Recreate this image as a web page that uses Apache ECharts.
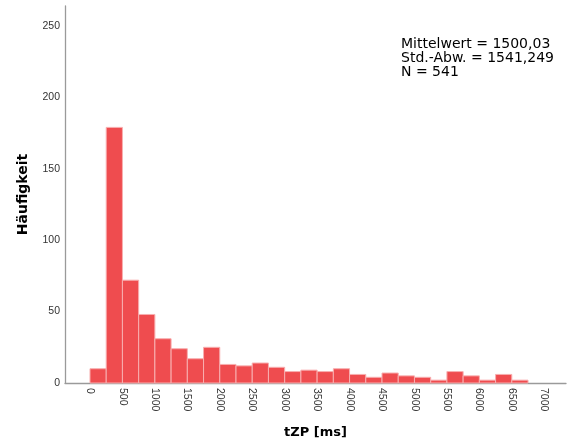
<!DOCTYPE html>
<html><head><meta charset="utf-8">
<script src="https://cdn.jsdelivr.net/npm/echarts@6/dist/echarts.min.js"></script>
<style>html,body{margin:0;padding:0;background:#fff}#c{width:567px;height:441px}</style>
</head><body><div id="c"></div>
<script>
// Histogram bins (ms) and frequencies
const binStarts = [0,250,500,750,1000,1250,1500,1750,2000,2250,2500,2750,3000,3250,3500,3750,4000,4250,4500,4750,5000,5250,5500,5750,6000,6250,6500];
const counts = [10,179,72,48,31,24,17,25,13,12,14,11,8,9,8,10,6,4,7,5,4,2,8,5,2,6,2];
const binWidth = 250;
const xTickValues = [0,500,1000,1500,2000,2500,3000,3500,4000,4500,5000,5500,6000,6500,7000];
const yTickValues = [0,50,100,150,200,250];
const statsLines = ['Mittelwert = 1500,03', 'Std.-Abw. = 1541,249', 'N = 541'];
const xTitle = 'tZP [ms]';
const yTitle = 'Häufigkeit';

const data = binStarts.map((s, i) => [s, s + binWidth, counts[i]]);
const chart = echarts.init(document.getElementById('c'), null, {renderer: 'canvas'});
const labelFont = {fontFamily: 'Liberation Sans', fontSize: 10.5, color: '#333'};
chart.setOption({
  animation: false,
  grid: {left: 65, right: 1, top: 6, bottom: 58, containLabel: false, outerBoundsMode: 'none'},
  xAxis: {
    type: 'value', min: -385, max: 7335,
    name: xTitle, nameLocation: 'middle', nameGap: 43,
    nameTextStyle: {fontFamily: 'DejaVu Sans', fontWeight: 'bold', fontSize: 13, color: '#000'},
    axisLine: {show: true, lineStyle: {color: '#9a9a9a', width: 1.3}},
    axisTick: {show: false},
    splitLine: {show: false},
    axisLabel: Object.assign({rotate: -90, margin: 5, customValues: xTickValues, formatter: v => String(v)}, labelFont)
  },
  yAxis: {
    type: 'value', min: 0, max: 264,
    name: yTitle, nameLocation: 'middle', nameGap: 35,
    nameTextStyle: {fontFamily: 'DejaVu Sans', fontWeight: 'bold', fontSize: 14, color: '#000'},
    axisLine: {show: true, onZero: false, lineStyle: {color: '#9a9a9a', width: 1.3}},
    axisTick: {show: false},
    splitLine: {show: false},
    axisLabel: Object.assign({margin: 5, customValues: yTickValues, formatter: v => String(v)}, labelFont)
  },
  graphic: [{
    type: 'text', left: 401, top: 37,
    style: {text: statsLines.join('\n'), font: '14px "DejaVu Sans"', lineHeight: 14, fill: '#000'}
  }],
  series: [{
    type: 'custom',
    data: data,
    encode: {x: [0, 1], y: 2},
    renderItem: function (params, api) {
      const p0 = api.coord([api.value(0), 0]);
      const p1 = api.coord([api.value(1), api.value(2)]);
      return {
        type: 'rect',
        shape: {x: p0[0], y: p1[1], width: p1[0] - p0[0], height: p0[1] - p1[1]},
        style: {fill: '#EF4C4F', stroke: '#F8AFB0', lineWidth: 1}
      };
    }
  }]
});
</script>
</body></html>
